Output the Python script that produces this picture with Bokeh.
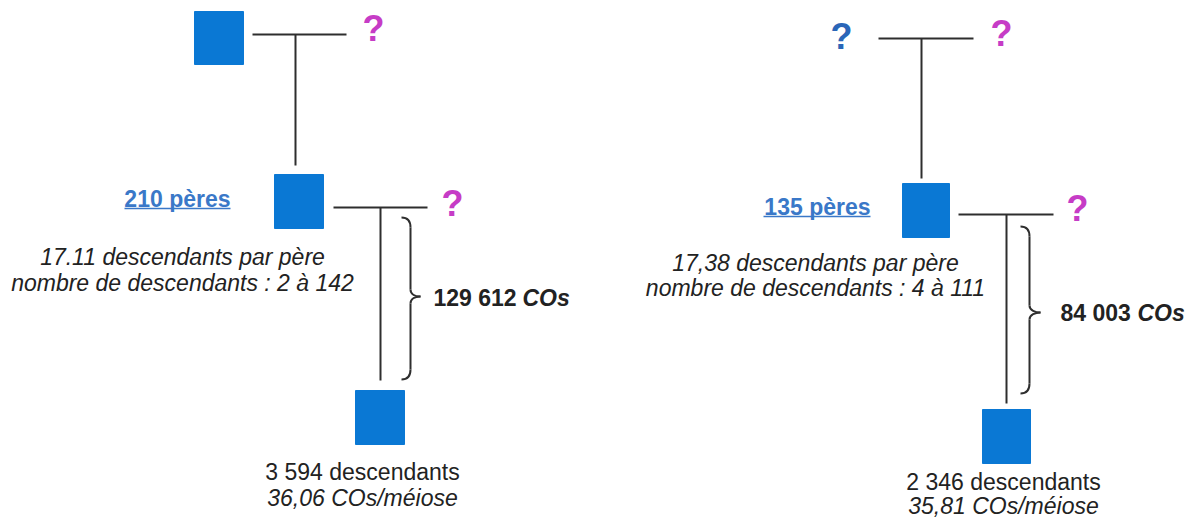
from bokeh.plotting import figure
from bokeh.models import Range1d
from bokeh.core.properties import value
from bokeh.embed import file_html
from bokeh.resources import INLINE

# ---------------- data ----------------
panels = ["A", "B"]
peres = [210, 135]
desc_par_pere = ["17.11", "17,38"]
desc_min = [2, 4]
desc_max = [142, 111]
total_desc = ["3 594", "2 346"]
cos_total = ["129 612", "84 003"]
cos_meiose = ["36,06", "35,81"]
grandpere_connu = [True, False]

# ---------------- layout (image pixel coordinates) ----------------
LAYOUT = {
    "A": dict(top_sq=(194, 243, 11, 64), top_line=(252, 346, 34), top_vert=(295, 34, 165),
              top_q_left=None, top_q_right=(373, 28),
              mid_sq=(274, 323, 174, 228), mid_line=(333, 427, 207), mid_vert=(380, 207, 380),
              mid_q=(452, 203),
              bot_sq=(355, 404, 390, 444),
              brace=(401, 217, 379, 296, 410, 420),
              peres=(230, 198, 124), stats=(182, 256, 282),
              cos=(433, 297, 89), bot_txt=(362, 471, 497)),
    "B": dict(top_sq=None, top_line=(878, 973, 38), top_vert=(921, 38, 178),
              top_q_left=(841, 36), top_q_right=(1001, 33),
              mid_sq=(902, 949, 183, 237), mid_line=(958, 1053, 214), mid_vert=(1006, 214, 403),
              mid_q=(1077, 208),
              bot_sq=(982, 1030, 409, 463),
              brace=(1020, 226, 393, 312, 1029, 1040),
              peres=(870, 206, 763), stats=(815, 262, 287),
              cos=(1060, 312, 77), bot_txt=(1003, 481, 505)),
}

SQ_COLOR = "#0a78d4"
MAGENTA = "#c63cc6"
BLUE_Q = "#2a66b8"
LINK_BLUE = "#3a78c8"
LINE = "#2e2e2e"
TXT = "#222222"
FONT = value("Liberation Sans")

W, H = 1186, 520
p = figure(width=W, height=H, x_range=Range1d(0, W), y_range=Range1d(H, 0),
           output_backend="svg", toolbar_location=None, min_border=0)
p.axis.visible = False
p.grid.visible = False
p.outline_line_color = None
p.background_fill_color = "white"
p.border_fill_color = "white"


def square(box):
    l, r, t, b = box
    p.quad(left=[l], right=[r], top=[t], bottom=[b], fill_color=SQ_COLOR, line_color=SQ_COLOR)


def qmark(pos, color):
    p.text(x=[pos[0]], y=[pos[1]], text=["?"], text_font=FONT, text_font_size="36px",
           text_font_style="bold", text_color=color, text_align="center", text_baseline="middle")


def brace(xl, yt, yb, ym, xs, xt):
    r = 10
    x0 = [xl, xs, xt, xs]
    y0 = [yt, yb - r, ym, ym - 7]
    x1 = [xs, xl, xs, xt]
    y1 = [yt + r, yb, ym + 7, ym]
    cx0 = [xl + 6, xs, xt - 5, xs]
    cy0 = [yt, yb - 4, ym, ym - 2]
    cx1 = [xs, xl + 6, xs, xt - 5]
    cy1 = [yt + 4, yb, ym + 2, ym]
    p.bezier(x0=x0, y0=y0, x1=x1, y1=y1, cx0=cx0, cy0=cy0, cx1=cx1, cy1=cy1,
             line_color=LINE, line_width=2)
    p.segment(x0=[xs, xs], y0=[yt + r, ym + 7], x1=[xs, xs], y1=[ym - 7, yb - r],
              line_color=LINE, line_width=2)


for i, key in enumerate(panels):
    L = LAYOUT[key]
    # top generation
    if grandpere_connu[i]:
        square(L["top_sq"])
    else:
        qmark(L["top_q_left"], BLUE_Q)
    qmark(L["top_q_right"], MAGENTA)
    x0, x1, y = L["top_line"]
    vx, vy0, vy1 = L["top_vert"]
    p.segment(x0=[x0, vx], y0=[y, vy0], x1=[x1, vx], y1=[y, vy1], line_color=LINE, line_width=2)

    # fathers
    square(L["mid_sq"])
    qmark(L["mid_q"], MAGENTA)
    x0, x1, y = L["mid_line"]
    vx, vy0, vy1 = L["mid_vert"]
    p.segment(x0=[x0, vx], y0=[y, vy0], x1=[x1, vx], y1=[y, vy1], line_color=LINE, line_width=2)

    # descendants
    square(L["bot_sq"])
    brace(*L["brace"])

    # fathers label (underlined link style)
    xr, yc, xl = L["peres"]
    p.text(x=[xr], y=[yc], text=[f"{peres[i]} pères"], text_font=FONT, text_font_size="23px",
           text_font_style="bold", text_color=LINK_BLUE, text_align="right", text_baseline="middle")
    p.segment(x0=[xl], y0=[yc + 10], x1=[xr], y1=[yc + 10], line_color=LINK_BLUE, line_width=1.5)

    # stats
    sx, sy1, sy2 = L["stats"]
    p.text(x=[sx, sx], y=[sy1, sy2],
           text=[f"{desc_par_pere[i]} descendants par père",
                 f"nombre de descendants : {desc_min[i]} à {desc_max[i]}"],
           text_font=FONT, text_font_size="23px", text_font_style="italic", text_color=TXT,
           text_align="center", text_baseline="middle")

    # COs total
    cx, cy, off = L["cos"]
    p.text(x=[cx], y=[cy], text=[cos_total[i]], text_font=FONT, text_font_size="23px",
           text_font_style="bold", text_color=TXT, text_align="left", text_baseline="middle")
    p.text(x=[cx + off], y=[cy], text=["COs"], text_font=FONT, text_font_size="23px",
           text_font_style="bold italic", text_color=TXT, text_align="left", text_baseline="middle")

    # bottom text
    bx, by1, by2 = L["bot_txt"]
    p.text(x=[bx], y=[by1], text=[f"{total_desc[i]} descendants"], text_font=FONT,
           text_font_size="23px", text_color=TXT, text_align="center", text_baseline="middle")
    p.text(x=[bx], y=[by2], text=[f"{cos_meiose[i]} COs/méiose"], text_font=FONT,
           text_font_size="23px", text_font_style="italic", text_color=TXT,
           text_align="center", text_baseline="middle")

open("out.html", "w").write(file_html(p, INLINE))
